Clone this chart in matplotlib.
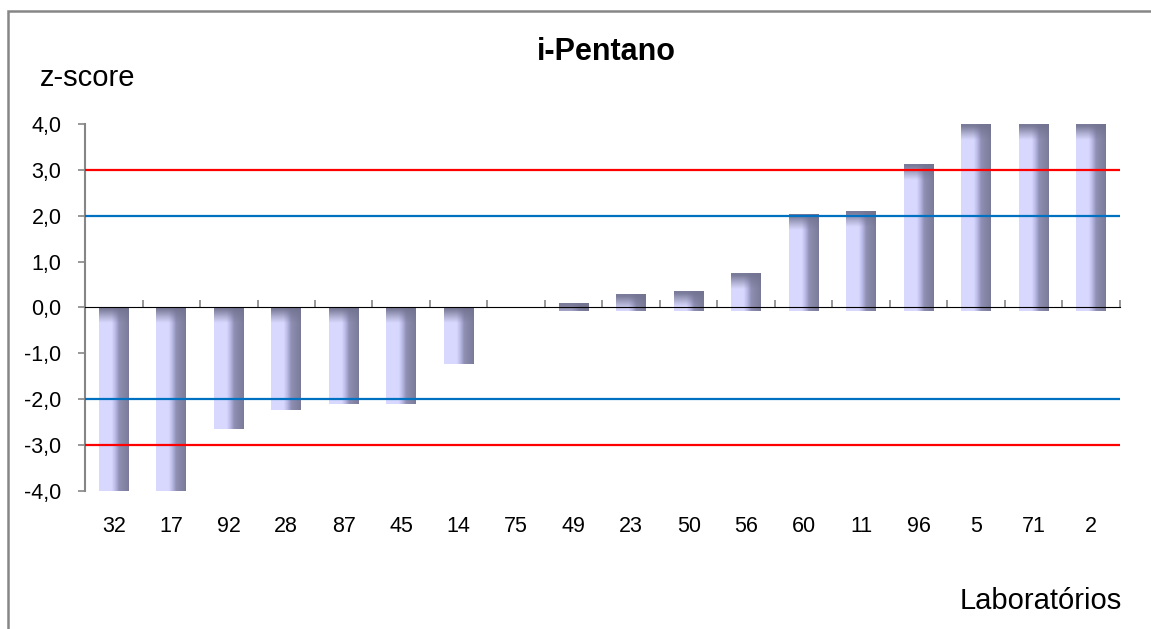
import numpy as np
import matplotlib; matplotlib.use("Agg")
import matplotlib.pyplot as plt
from matplotlib.patches import Rectangle

plt.rcParams["font.family"] = ["Liberation Sans", "DejaVu Sans"]

labs = ["32", "17", "92", "28", "87", "45", "14", "75", "49",
        "23", "50", "56", "60", "11", "96", "5", "71", "2"]
zscore = [-4.0, -4.0, -2.65, -2.23, -2.1, -2.1, -1.24, 0.0, 0.1,
          0.28, 0.36, 0.74, 2.03, 2.1, 3.12, 4.0, 4.0, 4.0]
warn_lim = [-2.0, 2.0]
act_lim = [-3.0, 3.0]

GRAY = "#868686"
RED = "#FF0000"
BLUE = "#0070C0"

fig = plt.figure(figsize=(11.51, 6.29), dpi=100)
fig.patch.set_facecolor("white")
# outer chart frame (open at right/bottom edge of the canvas)
fig.add_artist(Rectangle((8 / 1151, -0.05), 1.2, 1 - 11 / 629 + 0.05,
                         transform=fig.transFigure, fill=False,
                         ec=GRAY, lw=1.8))

ax = fig.add_axes([85 / 1151, 1 - 490.7 / 629, 1035 / 1151, 366.7 / 629])
x = np.arange(len(labs))
w = 0.52
base = [-0.07 if v > 0 else 0.0 for v in zscore]
bars = ax.bar(x, np.array(zscore) - np.array(base), bottom=base, width=w,
              color="none", edgecolor="none")

# shaded columns: light face to darker right edge, dark cap on top
stops = np.array([0, 0.42, 0.55, 0.68, 1.0])
cols = np.array([[0.85, 0.85, 1.0], [0.85, 0.85, 1.0], [0.72, 0.72, 0.90],
                 [0.56, 0.56, 0.70], [0.48, 0.48, 0.60]])
gx = np.linspace(0, 1, 64)
prof = np.stack([np.interp(gx, stops, cols[:, k]) for k in range(3)], axis=1)
dark = np.array([0.45, 0.45, 0.57])
for b in bars:
    bx, by, bw, bh = b.get_x(), b.get_y(), b.get_width(), b.get_height()
    if abs(bh) < 1e-9:
        continue
    y0, y1 = min(by, by + bh), max(by, by + bh)
    n = max(4, int((y1 - y0) / 0.01))
    d = np.linspace(0, y1 - y0, n)
    t = (np.clip(1.15 - d / 0.3, 0, 1) ** 1.1 * 0.92)[:, None, None]
    img = prof[None, :, :] * (1 - t) + dark * t
    ax.imshow(img, extent=(bx, bx + bw, y0, y1), origin="upper",
              aspect="auto", interpolation="bilinear", zorder=2)

for v in act_lim:
    ax.axhline(v, color=RED, lw=1.6, zorder=3)
for v in warn_lim:
    ax.axhline(v, color=BLUE, lw=1.6, zorder=3)

ax.set_xlim(-0.5, len(labs) - 0.5)
ax.set_ylim(-4, 4)
ax.set_yticks(np.arange(-4, 5, 1))
ax.set_yticklabels([f"{v:.1f}".replace(".", ",") for v in np.arange(-4, 5, 1)],
                   fontsize=15.5)
ax.tick_params(axis="y", direction="out", length=5, width=1.2, color=GRAY, pad=12)
ax.set_xticks(x)
ax.set_xticklabels(labs, fontsize=15.5)
ax.tick_params(axis="x", length=0, pad=18)
for s in ["top", "right", "bottom"]:
    ax.spines[s].set_visible(False)
ax.spines["left"].set_color(GRAY)
ax.spines["left"].set_linewidth(1.5)

# category axis through zero with ticks between columns
zx = ax.secondary_xaxis(0.5)
zx.set_xticks(np.arange(-0.5, len(labs), 1.0))
zx.set_xticklabels([])
zx.tick_params(direction="out", length=5, width=1.2, color=GRAY)
zx.spines["bottom"].set_color(GRAY)
zx.spines["bottom"].set_linewidth(1.5)
zx.set_zorder(2.5)

fig.text(606 / 1151, 1 - 52 / 629, "i-Pentano", ha="center", va="center",
         fontsize=22, fontweight="bold")
fig.text(40 / 1151, 1 - 78 / 629, "z-score", ha="left", va="center", fontsize=21)
fig.text(1122 / 1151, 1 - 601 / 629, "Laboratórios", ha="right", va="center",
         fontsize=21)

fig.savefig("out.png", dpi=100, facecolor="white")
